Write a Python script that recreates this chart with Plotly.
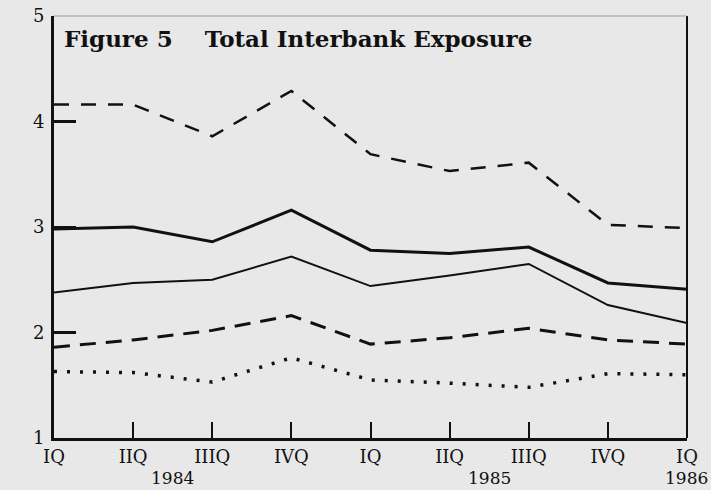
import plotly.graph_objects as go

quarters = ["IQ", "IIQ", "IIIQ", "IVQ", "IQ", "IIQ", "IIIQ", "IVQ", "IQ"]
years = ["1984", "1985", "1986"]
year_pos = [1.5, 5.5, 8.0]
y_ticks = [1, 2, 3, 4, 5]

series_top_dashed = [4.16, 4.16, 3.86, 4.29, 3.69, 3.53, 3.61, 3.02, 2.99]
series_thick_solid = [2.98, 3.00, 2.86, 3.16, 2.78, 2.75, 2.81, 2.47, 2.41]
series_thin_solid = [2.38, 2.47, 2.50, 2.72, 2.44, 2.54, 2.65, 2.26, 2.09]
series_low_dashed = [1.86, 1.93, 2.02, 2.16, 1.89, 1.95, 2.04, 1.93, 1.89]
series_dotted = [1.63, 1.62, 1.53, 1.76, 1.55, 1.52, 1.48, 1.61, 1.60]

x = list(range(len(quarters)))
FONT = "DejaVu Serif"
BG = "#e8e8e8"

fig = go.Figure()
styles = [
    (series_top_dashed, 2.5, "15px,12px"),
    (series_thick_solid, 3, "solid"),
    (series_thin_solid, 2, "solid"),
    (series_low_dashed, 3, "16px,10px"),
    (series_dotted, 3.5, "3px,10px"),
]
for vals, w, d in styles:
    fig.add_trace(go.Scatter(x=x, y=vals, mode="lines",
                             line=dict(color="#111111", width=w, dash=d),
                             showlegend=False, hoverinfo="skip"))

fig.update_layout(
    width=711, height=490,
    margin=dict(l=54, r=24, t=16, b=52),
    paper_bgcolor=BG, plot_bgcolor=BG,
    font=dict(family=FONT, color="#111111", size=18),
    xaxis=dict(range=[0, 8], tickmode="array", tickvals=x, ticktext=quarters,
               ticks="inside", ticklen=16, tickwidth=2, tickcolor="#111111",
               showgrid=False, zeroline=False, showline=True, linewidth=3,
               linecolor="#111111", tickfont=dict(size=18, family=FONT),
               ticklabelstandoff=0, automargin=False),
    yaxis=dict(range=[1, 5], tickmode="array", tickvals=y_ticks,
               ticks="inside", ticklen=22, tickwidth=2.5, tickcolor="#111111",
               showgrid=False, zeroline=False, showline=True, linewidth=3,
               linecolor="#111111", tickfont=dict(size=18, family=FONT),
               ticklabelstandoff=3, automargin=False),
)

# right and top border
fig.add_shape(type="line", xref="paper", yref="paper", x0=1, x1=1, y0=0, y1=1,
              line=dict(color="#111111", width=2))
fig.add_shape(type="line", xref="paper", yref="paper", x0=0, x1=1, y0=1, y1=1,
              line=dict(color="#9a9a9a", width=1))

fig.add_annotation(text="<b>Figure 5    Total Interbank Exposure</b>",
                   xref="paper", yref="paper", x=0.012, y=0.946,
                   xanchor="left", yanchor="middle", showarrow=False,
                   font=dict(size=23, family=FONT, color="#111111"))

x_max = x[-1]
for i, (yr, p) in enumerate(zip(years, year_pos)):
    last = i == len(years) - 1
    fig.add_annotation(text=yr, xref="paper", yref="paper", x=p / x_max, y=0,
                       yshift=-40, xanchor="right" if last else "center",
                       xshift=23 if last else 0, yanchor="middle",
                       showarrow=False, font=dict(size=17, family=FONT))

fig.write_html("out.html", config={"displayModeBar": False})
with open("out.html", "r", encoding="utf-8") as f:
    html = f.read()
html = html.replace("<head>", "<head><style>html,body{margin:0;padding:0;overflow:hidden;background:#e8e8e8}</style>", 1)
with open("out.html", "w", encoding="utf-8") as f:
    f.write(html)
